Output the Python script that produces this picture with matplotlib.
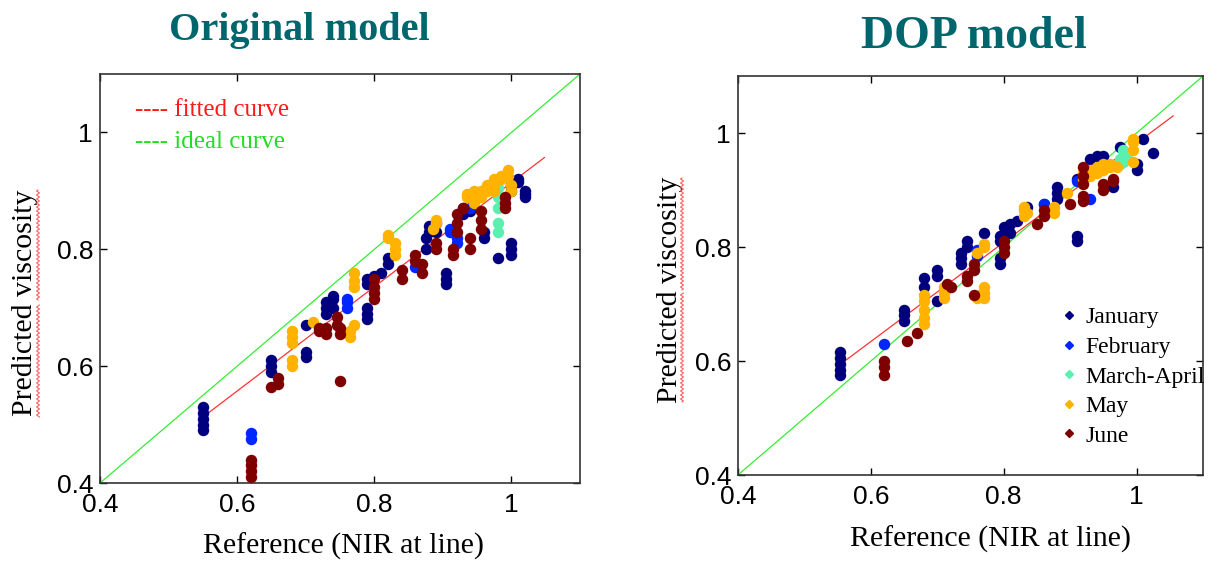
import matplotlib
matplotlib.use("Agg")
import numpy as np
import matplotlib.pyplot as plt
from matplotlib.lines import Line2D

months = ['January', 'February', 'March-April', 'May', 'June']
month_colors = ['#00007f', '#0026ff', '#5cf0b0', '#ffb300', '#7f0000']

# original model: reference vs predicted, per month
orig_x = {
    'January': [0.55, 0.55, 0.55, 0.55, 0.55, 0.65, 0.65, 0.65, 0.70, 0.70, 0.70,
                0.73, 0.73, 0.73, 0.74, 0.74, 0.74, 0.79, 0.79, 0.79, 0.79, 0.79,
                0.80, 0.81, 0.82, 0.82, 0.875, 0.875, 0.88, 0.88, 0.89, 0.89,
                0.905, 0.905, 0.905, 0.93, 0.93, 0.94, 0.96, 0.96, 0.98,
                1.00, 1.00, 1.00, 1.00, 1.00, 1.01, 1.01, 1.02, 1.02, 1.02],
    'February': [0.62, 0.62, 0.76, 0.76, 0.76, 0.86, 0.91, 0.91, 0.92, 0.92, 0.94],
    'March-April': [0.98, 0.98, 0.98, 0.98, 0.98],
    'May': [0.68, 0.68, 0.68, 0.68, 0.68, 0.71, 0.77, 0.77, 0.77, 0.765, 0.765, 0.77,
            0.82, 0.82, 0.83, 0.83, 0.83, 0.885, 0.89, 0.89,
            0.935, 0.935, 0.945, 0.945, 0.945, 0.955, 0.955, 0.965, 0.965, 0.965,
            0.975, 0.975, 0.975, 0.985, 0.985, 0.995, 0.995, 1.00, 1.00],
    'June': [0.62, 0.62, 0.62, 0.62, 0.65, 0.66, 0.66, 0.72, 0.72, 0.73, 0.73,
             0.745, 0.745, 0.75, 0.75, 0.75, 0.80, 0.80, 0.80, 0.80, 0.84, 0.84,
             0.86, 0.86, 0.87, 0.87, 0.89, 0.89, 0.915, 0.915, 0.92, 0.92, 0.92,
             0.93, 0.94, 0.94, 0.955, 0.955, 0.955, 0.99, 0.99, 0.99],
}
orig_y = {
    'January': [0.49, 0.50, 0.51, 0.52, 0.53, 0.59, 0.60, 0.61, 0.615, 0.625, 0.67,
                0.69, 0.70, 0.71, 0.70, 0.715, 0.72, 0.68, 0.69, 0.70, 0.74, 0.75,
                0.755, 0.76, 0.775, 0.785, 0.80, 0.82, 0.83, 0.84, 0.845, 0.83,
                0.74, 0.75, 0.76, 0.86, 0.87, 0.865, 0.82, 0.83, 0.785,
                0.79, 0.80, 0.81, 0.90, 0.91, 0.915, 0.92, 0.89, 0.895, 0.90],
    'February': [0.475, 0.485, 0.70, 0.71, 0.715, 0.77, 0.83, 0.835, 0.81, 0.82, 0.87],
    'March-April': [0.83, 0.845, 0.87, 0.89, 0.905],
    'May': [0.60, 0.61, 0.64, 0.65, 0.66, 0.675, 0.735, 0.745, 0.76, 0.65, 0.66, 0.67,
            0.82, 0.825, 0.79, 0.80, 0.81, 0.835, 0.845, 0.85,
            0.89, 0.895, 0.88, 0.89, 0.90, 0.89, 0.90, 0.90, 0.905, 0.91,
            0.90, 0.91, 0.92, 0.92, 0.925, 0.925, 0.935, 0.90, 0.91],
    'June': [0.41, 0.42, 0.43, 0.44, 0.565, 0.57, 0.58, 0.66, 0.665, 0.655, 0.665,
             0.67, 0.685, 0.655, 0.665, 0.575, 0.715, 0.725, 0.735, 0.75, 0.75, 0.765,
             0.78, 0.79, 0.76, 0.775, 0.80, 0.81, 0.79, 0.80, 0.83, 0.845, 0.86,
             0.87, 0.80, 0.82, 0.835, 0.85, 0.865, 0.87, 0.88, 0.89],
}

# DOP model
dop_x = {
    'January': [0.553, 0.553, 0.553, 0.553, 0.553, 0.65, 0.65, 0.65, 0.68, 0.68,
                0.70, 0.70, 0.70, 0.735, 0.735, 0.735, 0.745, 0.745, 0.77, 0.795, 0.795,
                0.795, 0.795, 0.80, 0.81, 0.81, 0.82, 0.835, 0.86, 0.88, 0.88, 0.88,
                0.91, 0.91, 0.91, 0.93, 0.94, 0.95, 0.965, 0.975, 1.00, 1.00, 1.01, 1.025],
    'February': [0.62, 0.76, 0.76, 0.86, 0.91, 0.93],
    'March-April': [0.975, 0.975, 0.98, 0.98, 0.98, 0.985],
    'May': [0.68, 0.68, 0.68, 0.68, 0.68, 0.71, 0.71, 0.71, 0.76, 0.77, 0.77,
            0.76, 0.765, 0.77, 0.77, 0.77, 0.83, 0.83, 0.83, 0.835, 0.875, 0.875, 0.895,
            0.92, 0.92, 0.93, 0.93, 0.94, 0.94, 0.95, 0.95, 0.96, 0.96, 0.97,
            0.995, 0.995, 0.995, 0.995],
    'June': [0.62, 0.62, 0.62, 0.655, 0.67, 0.715, 0.72, 0.745, 0.745, 0.755, 0.755,
             0.755, 0.80, 0.80, 0.80, 0.85, 0.86, 0.86, 0.90, 0.92, 0.92, 0.92, 0.92,
             0.92, 0.95, 0.95, 0.965, 0.965],
}
dop_y = {
    'January': [0.575, 0.585, 0.595, 0.605, 0.615, 0.67, 0.68, 0.69, 0.73, 0.745,
                0.705, 0.75, 0.76, 0.77, 0.78, 0.79, 0.80, 0.81, 0.825, 0.77, 0.78,
                0.81, 0.82, 0.835, 0.825, 0.84, 0.845, 0.87, 0.875, 0.885, 0.895, 0.905,
                0.81, 0.82, 0.92, 0.955, 0.96, 0.96, 0.905, 0.975, 0.935, 0.945, 0.99, 0.965],
    'February': [0.63, 0.785, 0.795, 0.875, 0.915, 0.885],
    'March-April': [0.945, 0.955, 0.95, 0.96, 0.97, 0.955],
    'May': [0.665, 0.675, 0.69, 0.705, 0.715, 0.71, 0.72, 0.73, 0.79, 0.80, 0.805,
            0.71, 0.715, 0.71, 0.72, 0.73, 0.855, 0.865, 0.87, 0.86, 0.86, 0.87, 0.895,
            0.92, 0.93, 0.935, 0.925, 0.94, 0.93, 0.945, 0.935, 0.94, 0.945, 0.94,
            0.95, 0.97, 0.985, 0.99],
    'June': [0.575, 0.59, 0.60, 0.635, 0.65, 0.735, 0.73, 0.74, 0.75, 0.76, 0.77,
             0.715, 0.79, 0.80, 0.81, 0.84, 0.865, 0.855, 0.875, 0.88, 0.89, 0.91, 0.925,
             0.94, 0.90, 0.91, 0.915, 0.92],
}

# fitted line end points
orig_fit_x = [0.558, 1.048]
orig_fit_y = [0.52, 0.957]
dop_fit_x = [0.555, 1.055]
dop_fit_y = [0.595, 1.03]
ideal = [0.4, 1.1]

ticks = [0.4, 0.6, 0.8, 1.0]
tick_labels = ['0.4', '0.6', '0.8', '1']

serif = 'Liberation Serif'
title_color = '#00666e'


def style_axes(ax):
    ax.set_xlim(0.4, 1.1)
    ax.set_ylim(0.4, 1.1)
    ax.set_xticks(ticks)
    ax.set_xticklabels(tick_labels)
    ax.set_yticks(ticks)
    ax.set_yticklabels(tick_labels)
    ax.tick_params(direction='in', length=5, width=1, top=True, right=True,
                   labelsize=19)
    ax.tick_params(axis='x', pad=7)
    ax.tick_params(axis='y', pad=5)
    for lab in ax.get_xticklabels() + ax.get_yticklabels():
        lab.set_family('Liberation Sans')
    for s in ax.spines.values():
        s.set_linewidth(1.2)
        s.set_color('#333333')


def draw_points(ax, xs, ys):
    for m, c in zip(months, month_colors):
        ax.scatter(xs[m], ys[m], s=68, color=c, marker='o', linewidths=0, zorder=3)


def squiggle(fig, x, y0, y1):
    # spell-check style wavy underline next to the rotated y label
    W, H = fig.get_size_inches() * fig.dpi
    yy = np.linspace(y0, y1, int(abs(y1 - y0)))
    xx = x + 1.5 * np.sin(yy * 2 * np.pi / 4.0)
    fig.add_artist(Line2D(xx / W, 1 - yy / H, color='#ff6060', lw=0.8,
                          transform=fig.transFigure))


fig = plt.figure(figsize=(12.17, 5.69), dpi=100)

ax1 = fig.add_axes([0.0822, 0.1511, 0.3944, 0.7188])
ax1.plot(ideal, ideal, color='#33ee33', lw=0.9, zorder=2)
ax1.plot(orig_fit_x, orig_fit_y, color='#ff3333', lw=0.9, zorder=2)
draw_points(ax1, orig_x, orig_y)
style_axes(ax1)
ax1.text(0.073, 0.912, '---- fitted curve', color='#ff1a1a', transform=ax1.transAxes,
         fontsize=18, family=serif, va='center')
ax1.text(0.073, 0.834, '---- ideal curve', color='#22dd22', transform=ax1.transAxes,
         fontsize=18, family=serif, va='center')
ax1.set_xlabel('Reference (NIR at line)', fontsize=21.5, family=serif)
ax1.xaxis.set_label_coords(0.508, -0.122)
ax1.set_ylabel('Predicted viscosity', fontsize=21.5, family=serif, va='center')
ax1.yaxis.set_label_coords(-0.156, 0.44)
fig.text(0.246, 0.947, 'Original model', fontsize=29, family=serif, weight='bold',
         color=title_color, ha='center', va='center')

ax2 = fig.add_axes([0.6064, 0.1652, 0.3821, 0.7012])
ax2.plot(ideal, ideal, color='#33ee33', lw=0.9, zorder=2)
ax2.plot(dop_fit_x, dop_fit_y, color='#ff3333', lw=0.9, zorder=2)
draw_points(ax2, dop_x, dop_y)
style_axes(ax2)
ax2.set_xlabel('Reference (NIR at line)', fontsize=21.5, family=serif)
ax2.xaxis.set_label_coords(0.542, -0.128)
ax2.set_ylabel('Predicted viscosity', fontsize=21.5, family=serif, va='center')
ax2.yaxis.set_label_coords(-0.146, 0.464)
fig.text(0.80, 0.935, 'DOP model', fontsize=33, family=serif, weight='bold',
         color=title_color, ha='center', va='center')

handles = [Line2D([], [], marker='D', markersize=4, linestyle='none', color=c)
           for c in month_colors]
ax2.legend(handles, months, loc='upper left', bbox_to_anchor=(0.671, 0.445),
           frameon=False, prop={'family': serif, 'size': 17}, handlelength=0.8,
           handletextpad=0.3, labelspacing=0.34, borderaxespad=0)

squiggle(fig, 38, 190, 300)
squiggle(fig, 38, 305, 417)
squiggle(fig, 682, 178, 290)
squiggle(fig, 682, 293, 402)

fig.savefig('out.png', dpi=100)
